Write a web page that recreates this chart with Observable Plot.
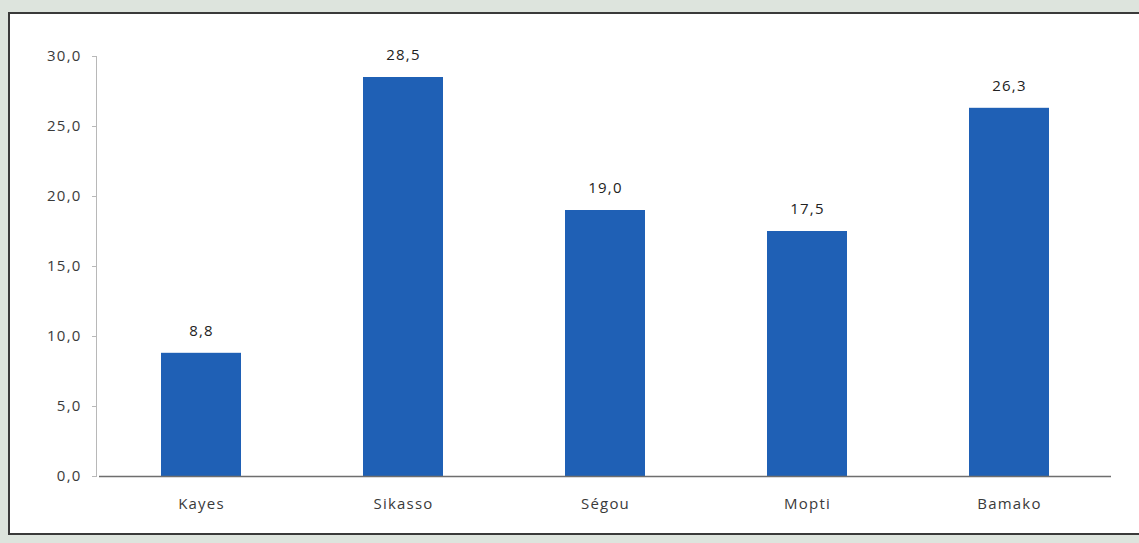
<!DOCTYPE html>
<html>
<head>
<meta charset="utf-8">
<script src="https://cdn.jsdelivr.net/npm/d3@7"></script>
<script src="https://cdn.jsdelivr.net/npm/@observablehq/plot@0.6"></script>
<style>
  html, body { margin: 0; padding: 0; width: 1139px; height: 543px; overflow: hidden; background: #dde4dd; }
  #panel { position: absolute; left: 8px; top: 12px; width: 1140px; height: 519px; background: #fff;
           border: 2px solid #3a3a3a; border-right: none; }
  #chart { position: absolute; left: 0; top: 0; }
  #chart svg text { letter-spacing: 1.2px; }
</style>
</head>
<body>
<div id="panel"></div>
<div id="chart"></div>
<script>
const regions = ["Kayes", "Sikasso", "Ségou", "Mopti", "Bamako"];
const values = [8.8, 28.5, 19.0, 17.5, 26.3];
const yTicks = [0, 5, 10, 15, 20, 25, 30];

const data = regions.map((r, i) => ({region: r, value: values[i]}));
const fmt = v => v.toFixed(1).replace(".", ",");

const chart = Plot.plot({
  width: 1139,
  height: 543,
  marginLeft: 99,
  marginRight: 28,
  marginTop: 56,
  marginBottom: 67,
  style: {background: "transparent", fontFamily: "'Open Sans', 'Liberation Sans', sans-serif", fontSize: "15px", color: "#3a3a3a"},
  x: {domain: regions, paddingInner: 0.605, paddingOuter: 0.3025, align: 0.5, label: null},
  y: {domain: [0, 30], label: null},
  marks: [
    Plot.frame({anchor: "left", stroke: "#b8b8b8", dx: -3}),
    Plot.axisY({ticks: yTicks, tickFormat: fmt, tickSize: 4, tickPadding: 11, stroke: "#b8b8b8", fill: "#3a3a3a", label: null, dx: -3}),
    Plot.axisX({tickSize: 0, tickPadding: 22, fill: "#3a3a3a", label: null}),
    Plot.barY(data, {x: "region", y: "value", fill: "#1f60b5"}),
    Plot.ruleY([0], {stroke: "#6e6e6e", strokeWidth: 1.5}),
    Plot.text(data, {x: "region", y: "value", text: d => fmt(d.value), dy: -22, fill: "#222", fontSize: 15})
  ]
});
document.getElementById("chart").appendChild(chart);
</script>
</body>
</html>
